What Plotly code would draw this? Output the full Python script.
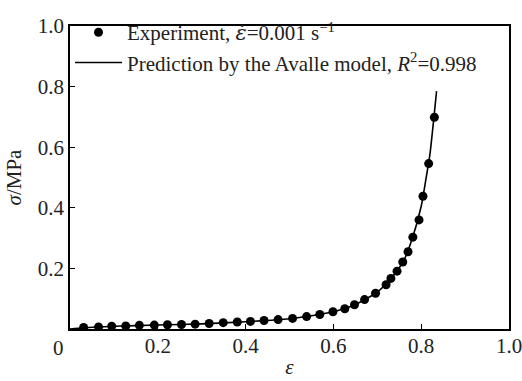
import plotly.graph_objects as go

# Experimental data (strain, stress in MPa)
exp_strain = [0.031, 0.065, 0.095, 0.127, 0.158, 0.192, 0.222, 0.254, 0.285, 0.317,
              0.349, 0.381, 0.411, 0.442, 0.474, 0.507, 0.539, 0.569, 0.599, 0.626,
              0.648, 0.671, 0.696, 0.720, 0.731, 0.745, 0.758, 0.770, 0.781, 0.795,
              0.804, 0.817, 0.830]
exp_stress = [0.005, 0.007, 0.009, 0.010, 0.012, 0.013, 0.014, 0.015, 0.016, 0.018,
              0.021, 0.023, 0.025, 0.028, 0.031, 0.035, 0.041, 0.048, 0.057, 0.067,
              0.080, 0.097, 0.118, 0.146, 0.167, 0.191, 0.221, 0.255, 0.303, 0.360,
              0.438, 0.546, 0.699]

# Avalle model prediction
model_strain = [0.0, 0.03, 0.1, 0.2, 0.3, 0.4, 0.5, 0.55, 0.6, 0.65, 0.7, 0.73,
                0.76, 0.78, 0.80, 0.81, 0.82, 0.835]
model_stress = [0.0, 0.004, 0.009, 0.013, 0.017, 0.024, 0.034, 0.044, 0.057, 0.081,
                0.122, 0.165, 0.225, 0.300, 0.405, 0.488, 0.578, 0.785]

x_ticks = [0.2, 0.4, 0.6, 0.8, 1.0]
x_tick_labels = ["0.2", "0.4", "0.6", "0.8", "1.0"]
y_ticks = [0.2, 0.4, 0.6, 0.8, 1.0]
y_tick_labels = ["0.2", "0.4", "0.6", "0.8", "1.0"]

FONT = "Liberation Serif"
TXT = "#222"
FS = 21

fig = go.Figure()
fig.add_trace(go.Scatter(
    x=exp_strain, y=exp_stress, mode="markers",
    marker=dict(color="black", size=9),
    name=("Experiment, <span style=\"font-family:'DejaVu Serif';font-style:italic\">"
          "\u03b5\u0307</span>=0.001 s<sup>\u22121</sup>"),
))
fig.add_trace(go.Scatter(
    x=model_strain, y=model_stress, mode="lines",
    line=dict(color="black", width=1.6, shape="spline", smoothing=0.6),
    name="Prediction by the Avalle model, <i>R</i><sup>2</sup>=0.998",
))

axis_common = dict(
    showline=True, linecolor="black", linewidth=1.5, mirror=True,
    ticks="inside", ticklen=5, tickcolor="black", tickwidth=1.2,
    showgrid=False, zeroline=False, automargin=False,
    ticklabeloverflow="allow",
    tickfont=dict(family=FONT, size=FS, color=TXT),
)

fig.update_layout(
    width=522, height=381,
    margin=dict(l=70, r=13, t=12, b=52),
    paper_bgcolor="white", plot_bgcolor="white",
    font=dict(family=FONT, size=FS, color=TXT),
    showlegend=True,
    legend=dict(
        x=0.0, y=1.046, xanchor="left", yanchor="top",
        bgcolor="rgba(0,0,0,0)", borderwidth=0,
        font=dict(family=FONT, size=FS, color=TXT),
        itemwidth=47, tracegroupgap=0,
    ),
    xaxis=dict(
        range=[0, 1.0], tickvals=x_ticks, ticktext=x_tick_labels,
        ticklabelstandoff=-3,
        title=dict(text="<i>\u03b5</i>", font=dict(family=FONT, size=FS, color=TXT), standoff=2),
        **axis_common,
    ),
    yaxis=dict(
        range=[0, 1.0], tickvals=y_ticks, ticktext=y_tick_labels,
        title=dict(text="<i>\u03c3</i>/MPa", font=dict(family=FONT, size=FS, color=TXT), standoff=10),
        **axis_common,
    ),
)

fig.add_annotation(
    x=0, y=0, xref="x", yref="y", text="0", showarrow=False,
    xanchor="center", yanchor="middle", xshift=-12, yshift=-19,
    font=dict(family=FONT, size=FS, color=TXT),
)

fig.write_html("out.html")
